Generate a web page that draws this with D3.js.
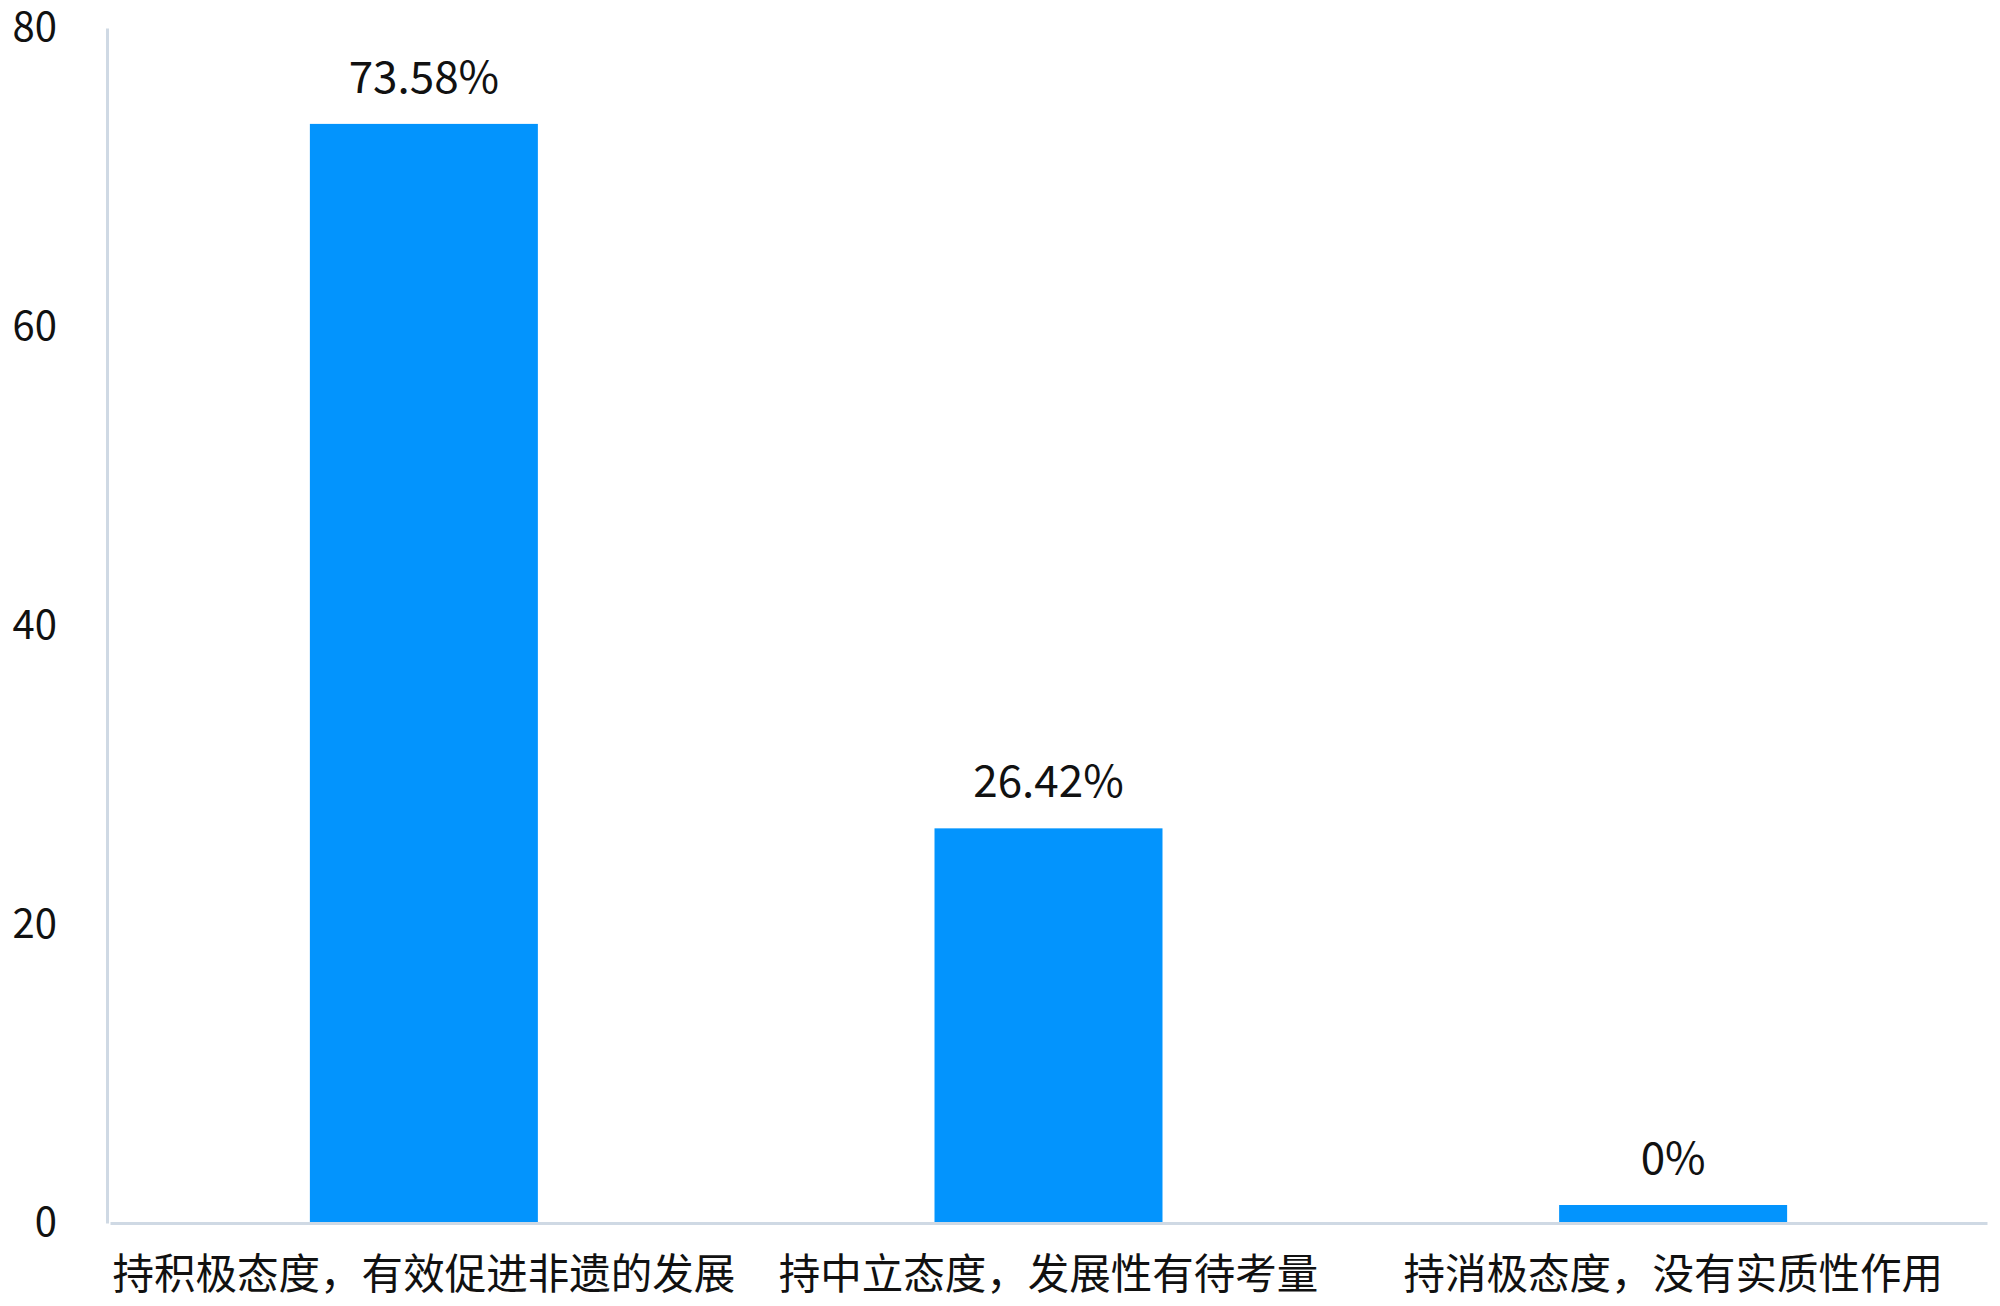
<!DOCTYPE html>
<html>
<head>
<meta charset="utf-8">
<script src="https://cdn.jsdelivr.net/npm/d3@7"></script>
<style>
  body { margin: 0; background: #fff; }
  text { font-family: "Noto Sans CJK SC", "Noto Sans", sans-serif; fill: #111; }
</style>
</head>
<body>
<script>
// data
var categories = ['持积极态度，有效促进非遗的发展', '持中立态度，发展性有待考量', '持消极态度，没有实质性作用']
var values = [73.58, 26.42, 0]
var valueLabels = ['73.58%', '26.42%', '0%']
var yTicks = [0, 20, 40, 60, 80]

var margin = { top: 28, right: 13, bottom: 83, left: 107 },
    width = 2000 - margin.left - margin.right,
    height = 1306 - margin.top - margin.bottom

var x = d3.scaleBand().domain(categories).range([3, width]).paddingInner(0.635).paddingOuter(0.32)
var y = d3.scaleLinear().domain([0, 80]).range([height, 0])

var svg = d3.select('body').append('svg')
    .attr('width', 2000)
    .attr('height', 1306)
    .append('g')
    .attr('transform', 'translate(' + margin.left + ',' + margin.top + ')')

// y axis: only line + labels
var yAxis = svg.append('g')
    .call(d3.axisLeft(y).tickValues(yTicks).tickSize(0).tickPadding(50))
yAxis.select('.domain').attr('stroke', '#cfd9e4').attr('stroke-width', 3)
yAxis.selectAll('text')
    .style('font-size', '40px')
    .attr('dy', '0.32em')

// bars (minimum visible height for zero values)
var minH = 18
svg.selectAll('.bar')
    .data(values)
    .enter().append('rect')
    .attr('class', 'bar')
    .attr('x', (d, i) => x(categories[i]))
    .attr('width', x.bandwidth())
    .attr('y', d => Math.min(y(d), height - minH))
    .attr('height', d => Math.max(height - y(d), minH))
    .attr('fill', '#0394fd')

// value labels
svg.selectAll('.val')
    .data(values)
    .enter().append('text')
    .attr('class', 'val')
    .attr('x', (d, i) => x(categories[i]) + x.bandwidth() / 2)
    .attr('y', d => Math.min(y(d), height - minH) - 31)
    .attr('text-anchor', 'middle')
    .style('font-size', '44px')
    .text((d, i) => valueLabels[i])

// x axis
var xAxis = svg.append('g')
    .attr('transform', 'translate(0,' + height + ')')
    .call(d3.axisBottom(x).tickSize(0).tickPadding(37))
xAxis.select('.domain').attr('stroke', '#cfd9e4').attr('stroke-width', 3)
xAxis.selectAll('text')
    .style('font-size', '41.5px')
</script>
</body>
</html>
